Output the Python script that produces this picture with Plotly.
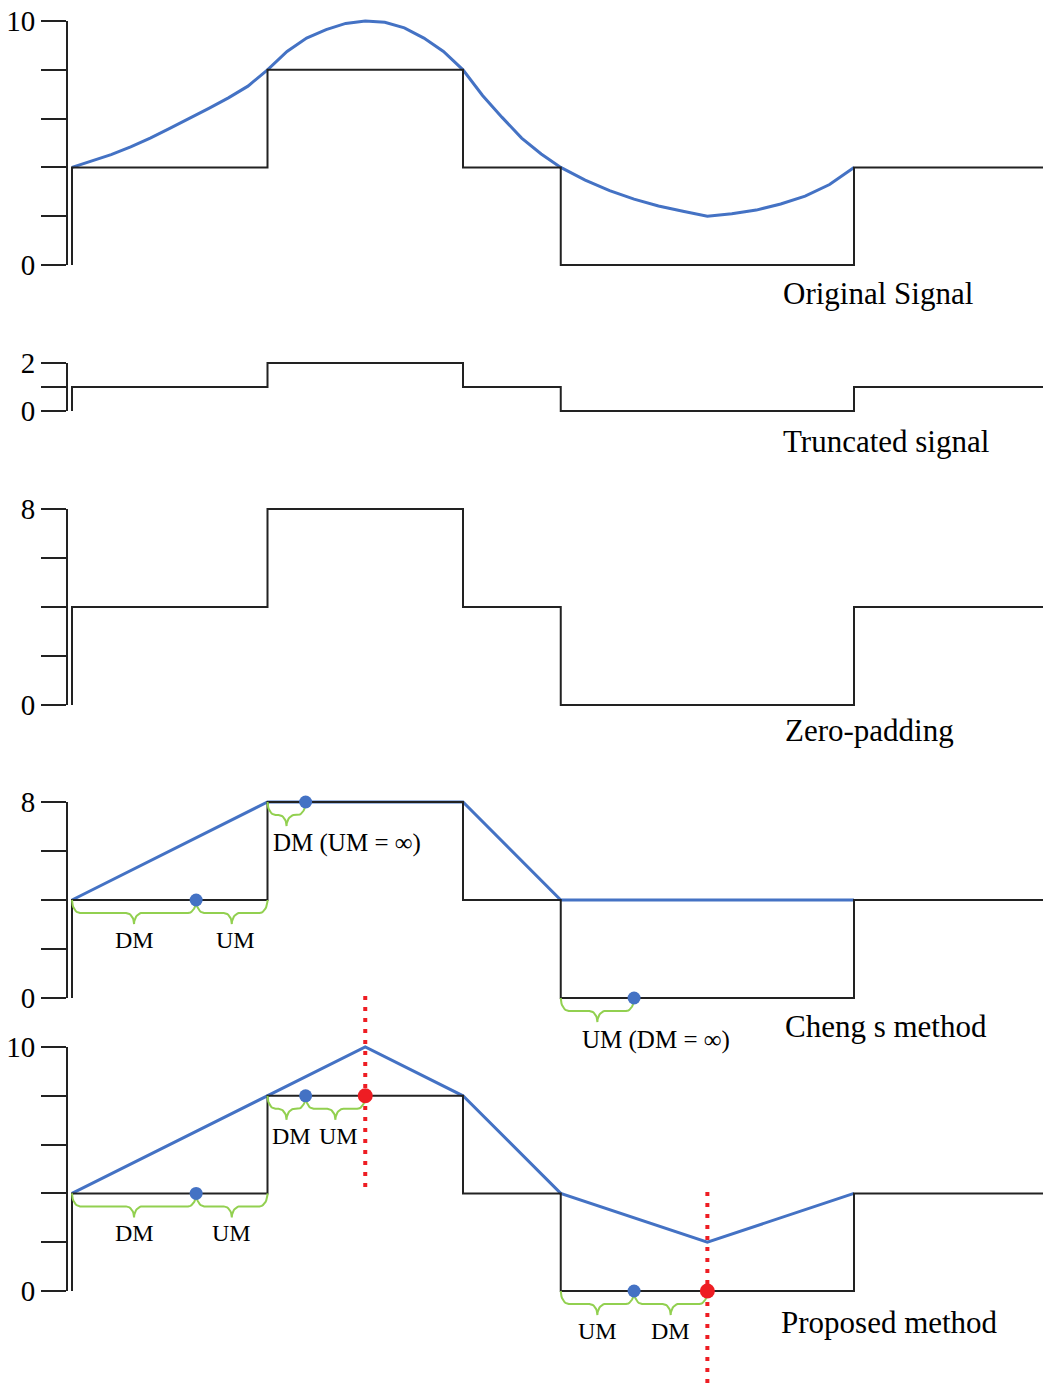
import numpy as np
import plotly.graph_objects as go

# ---------------- data ----------------
step_x = [0, 0, 2, 4, 5, 8, 10]
step_orig = [0, 4, 8, 4, 0, 4, 4]          # original / zero-padding / methods
step_trunc = [0, 1, 2, 1, 0, 1, 1]         # truncated signal

orig_x = [0, 0.2, 0.4, 0.6, 0.8, 1.0, 1.2, 1.4, 1.6, 1.8, 2.0, 2.2, 2.4, 2.6, 2.8,
          3.0, 3.2, 3.4, 3.6, 3.8, 4.0, 4.2, 4.4, 4.6, 4.8, 5.0, 5.25, 5.5, 5.75,
          6.0, 6.25, 6.5, 6.75, 7.0, 7.25, 7.5, 7.75, 8.0]
orig_y = [4.0, 4.25, 4.52, 4.84, 5.2, 5.6, 6.0, 6.42, 6.85, 7.33, 8.0, 8.75, 9.3,
          9.65, 9.9, 10.0, 9.95, 9.72, 9.3, 8.75, 8.0, 6.95, 6.05, 5.2, 4.55, 4.0,
          3.48, 3.05, 2.7, 2.42, 2.2, 2.0, 2.1, 2.25, 2.5, 2.82, 3.3, 4.0]

cheng_x = [0, 2, 4, 5, 8]
cheng_y = [4, 8, 8, 4, 4]
prop_x = [0, 2, 3, 4, 5, 6.5, 8]
prop_y = [4, 8, 10, 8, 4, 2, 4]

blue_dot_x = [1.27, 2.39, 5.75]
blue_dot_y = [4, 8, 0]
red_dot_x = [3.0, 6.5]
red_dot_y = [8, 0]

cheng_braces = [(0, 1.27, 4, "DM"), (1.27, 2, 4, "UM"), (2, 2.39, 8, ""), (5, 5.75, 0, "")]
prop_braces = [(0, 1.27, 4, "DM"), (1.27, 2, 4, "UM"), (2, 2.39, 8, "DM"),
               (2.39, 3, 8, "UM"), (5, 5.75, 0, "UM"), (5.75, 6.5, 0, "DM")]

titles = ["Original Signal", "Truncated signal", "Zero-padding", "Cheng s method", "Proposed method"]

# ---------------- geometry / style ----------------
W, H, L = 1043, 1384, 67
X0_PX, SX = 72, 97.75
FONT = "Liberation Serif, Times New Roman, serif"
BLUE = "#4472C4"
GREEN = "#92D050"
RED = "#EE1D23"
BLACK = "#222222"

# zero pixel, pixels per unit, domain top px, domain bottom px, tickvals, ticktext
panels = [
    dict(z=265, s=24.4, top=5, bot=285, tv=[0, 2, 4, 6, 8, 10], tt=["0", "", "", "", "", "10"], tmax=10),
    dict(z=411, s=24.0, top=345, bot=420, tv=[0, 1, 2], tt=["0", "", "2"], tmax=2),
    dict(z=705, s=24.5, top=490, bot=715, tv=[0, 2, 4, 6, 8], tt=["0", "", "", "", "8"], tmax=8),
    dict(z=998, s=24.5, top=785, bot=1070, tv=[0, 2, 4, 6, 8], tt=["0", "", "", "", "8"], tmax=8),
    dict(z=1291, s=24.4, top=985, bot=1384, tv=[0, 2, 4, 6, 8, 10], tt=["0", "", "", "", "", "10"], tmax=10),
]
title_pos = [(781, 293), (781, 441), (783, 730), (783, 1026), (779, 1322)]
# small horizontal nudges for the crowded "DM UM" labels of the proposed panel (style only)
label_shift = {("y5", 2): 5, ("y5", 3): 3, ("y4", 1): 4}

fig = go.Figure()
layout = dict(
    width=W, height=H, margin=dict(l=L, r=0, t=0, b=0, autoexpand=False),
    paper_bgcolor="white", plot_bgcolor="rgba(0,0,0,0)", showlegend=False,
    xaxis=dict(range=[(L - X0_PX) / SX, (W - X0_PX) / SX], visible=False, fixedrange=True,
               automargin=False),
)
shapes, annos = [], []

for i, p in enumerate(panels):
    name = "yaxis" if i == 0 else f"yaxis{i+1}"
    ref = "y" if i == 0 else f"y{i+1}"
    layout[name] = dict(
        domain=[1 - p["bot"] / H, 1 - p["top"] / H],
        range=[(p["z"] - p["bot"]) / p["s"], (p["z"] - p["top"]) / p["s"]],
        anchor="x", showgrid=False, zeroline=False, showline=False, automargin=False,
        ticks="outside", ticklen=25, tickwidth=2, tickcolor=BLACK,
        tickvals=p["tv"], ticktext=p["tt"],
        tickfont=dict(family=FONT, size=29, color="black"), fixedrange=True,
    )
    shapes.append(dict(type="line", xref="x domain", x0=0, x1=0, yref=ref, y0=0, y1=p["tmax"],
                       line=dict(color=BLACK, width=2)))
    tx, ty = title_pos[i]
    annos.append(dict(text=titles[i], xref="paper", yref="paper", x=(tx - L) / (W - L), y=1 - ty / H,
                      xanchor="left", yanchor="middle", showarrow=False,
                      font=dict(family=FONT, size=31, color="black")))


def brace_path(x0, x1, y, sy):
    d1, d2 = 13 / sy, 24 / sy
    rx = min(8.0, (x1 - x0) * SX / 4) / SX
    xm = (x0 + x1) / 2
    t = np.linspace(0, np.pi / 2, 12)
    a1x = (x0 + rx) - rx * np.cos(t)
    a1y = y - d1 * np.sin(t)
    a2x = (xm - rx) + rx * np.sin(t)
    a2y = (y - d2) + (d2 - d1) * np.cos(t)
    lx = np.concatenate([a1x, a2x])
    ly = np.concatenate([a1y, a2y])
    rxs = (2 * xm - lx)[::-1]
    rys = ly[::-1]
    return list(np.concatenate([lx, rxs])), list(np.concatenate([ly, rys]))


def add_step(vals, ref):
    fig.add_trace(go.Scatter(x=step_x, y=vals, mode="lines", line=dict(color=BLACK, width=2, shape="hv"),
                             yaxis=ref, hoverinfo="skip"))


def add_braces(braces, ref, sy):
    bx, by = [], []
    for k, (a, b, yv, lab) in enumerate(braces):
        px, py = brace_path(a, b, yv, sy)
        bx += px + [None]
        by += py + [None]
        if lab:
            annos.append(dict(text=lab, xref="x", yref=ref, x=(a + b) / 2, y=yv - 40 / sy,
                              xshift=label_shift.get((ref, k), 0),
                              xanchor="center", yanchor="middle", showarrow=False,
                              font=dict(family=FONT, size=24, color="black")))
    fig.add_trace(go.Scatter(x=bx, y=by, mode="lines", line=dict(color=GREEN, width=2),
                             yaxis=ref, hoverinfo="skip"))


# panel 1: original signal
fig.add_trace(go.Scatter(x=orig_x, y=orig_y, mode="lines", line=dict(color=BLUE, width=3), yaxis="y"))
add_step(step_orig, "y")
# panel 2: truncated
add_step(step_trunc, "y2")
# panel 3: zero padding
add_step(step_orig, "y3")
# panel 4: Cheng
fig.add_trace(go.Scatter(x=cheng_x, y=cheng_y, mode="lines", line=dict(color=BLUE, width=3), yaxis="y4"))
add_step(step_orig, "y4")
add_braces(cheng_braces, "y4", panels[3]["s"])
fig.add_trace(go.Scatter(x=blue_dot_x, y=blue_dot_y, mode="markers",
                         marker=dict(color=BLUE, size=13), yaxis="y4"))
s4 = panels[3]["s"]
annos.append(dict(text="DM (UM = ∞)", xref="x", yref="y4", x=2.04, y=8 - 41 / s4, xanchor="left",
                  yanchor="middle", showarrow=False, font=dict(family=FONT, size=25, color="black")))
annos.append(dict(text="UM (DM = ∞)", xref="x", yref="y4", x=5.2, y=0 - 42 / s4, xanchor="left",
                  yanchor="middle", showarrow=False, font=dict(family=FONT, size=25, color="black")))
# panel 5: proposed
s5 = panels[4]["s"]
fig.add_trace(go.Scatter(x=prop_x, y=prop_y, mode="lines", line=dict(color=BLUE, width=3), yaxis="y5"))
add_step(step_orig, "y5")
add_braces(prop_braces, "y5", s5)
fig.add_trace(go.Scatter(x=[red_dot_x[0]] * 2, y=[(1291 - 996) / s5, (1291 - 1190) / s5], mode="lines",
                         line=dict(color=RED, width=4, dash="4px,7px"), yaxis="y5"))
fig.add_trace(go.Scatter(x=[red_dot_x[1]] * 2, y=[(1291 - 1192) / s5, -5], mode="lines",
                         line=dict(color=RED, width=4, dash="4px,7px"), yaxis="y5"))
fig.add_trace(go.Scatter(x=blue_dot_x, y=blue_dot_y, mode="markers",
                         marker=dict(color=BLUE, size=13), yaxis="y5"))
fig.add_trace(go.Scatter(x=red_dot_x, y=red_dot_y, mode="markers",
                         marker=dict(color=RED, size=15), yaxis="y5"))

layout["shapes"] = shapes
layout["annotations"] = annos
fig.update_layout(**layout)
fig.write_html("out.html", config={"displayModeBar": False},
               post_script="document.body.style.margin='0';document.body.style.overflow='hidden';")
